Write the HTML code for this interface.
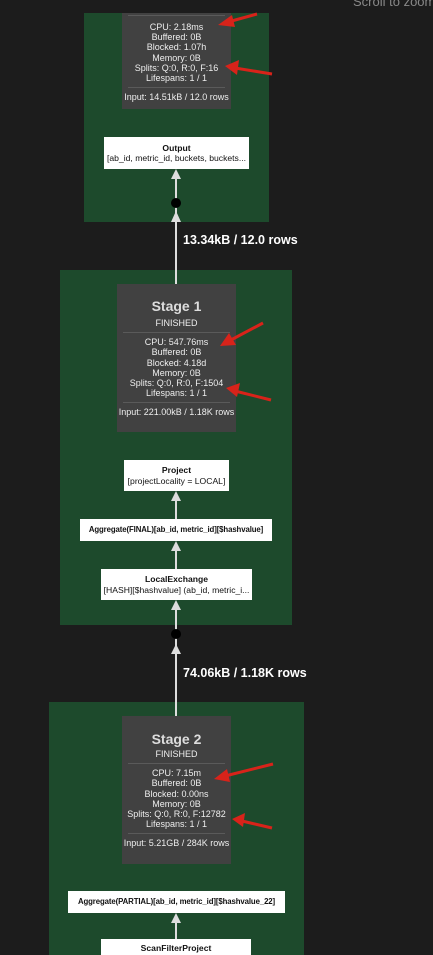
<!DOCTYPE html>
<html><head><style>
html,body{margin:0;width:433px;height:955px;overflow:hidden}
body{background:#1c1c1c;position:relative;font-family:"Liberation Sans",Arial,sans-serif}
.a{position:absolute}
.g{position:absolute;background:#1d4a2c}
.s{position:absolute;background:#414141;color:#eee;text-align:center;font-size:9px;line-height:10.2px}
.s hr{border:0;border-top:1px solid #5a5a5a;margin:4px 6px}
.t{font-size:14px;font-weight:bold;line-height:18px;color:#ddd}
.n{position:absolute;background:#fff;color:#111;text-align:center;font-size:8.6px;line-height:10.5px;display:flex;flex-direction:column;justify-content:center;white-space:nowrap;overflow:hidden}
.n b{font-weight:bold}
.n.o{font-size:7.8px;letter-spacing:-0.1px}
.l{position:absolute;color:#fff;font-weight:bold;font-size:12.5px}
</style></head><body>
<div class="a" style="left:353px;top:-6px;color:#888;font-size:13px;white-space:nowrap">Scroll to zoom</div>

<div class="g" style="left:84px;top:13px;width:185px;height:209px"></div>
<div class="s" style="left:122px;top:13px;width:109px;height:96px">
<hr style="margin-top:2px;margin-bottom:6px">
CPU: 2.18ms<br>Buffered: 0B<br>Blocked: 1.07h<br>Memory: 0B<br>Splits: Q:0, R:0, F:16<br>Lifespans: 1 / 1
<hr>Input: 14.51kB / 12.0 rows</div>
<div class="n" style="left:104px;top:137px;width:145px;height:32px"><b>Output</b>[ab_id, metric_id, buckets, buckets...</div>

<div class="g" style="left:60px;top:270px;width:232px;height:355px"></div>
<div class="s" style="left:117px;top:284px;width:119px;height:148px;padding-top:13px;box-sizing:border-box">
<div class="t">Stage 1</div><div style="margin-top:3px">FINISHED</div>
<hr>CPU: 547.76ms<br>Buffered: 0B<br>Blocked: 4.18d<br>Memory: 0B<br>Splits: Q:0, R:0, F:1504<br>Lifespans: 1 / 1
<hr>Input: 221.00kB / 1.18K rows</div>
<div class="n" style="left:124px;top:460px;width:105px;height:31px"><b>Project</b>[projectLocality = LOCAL]</div>
<div class="n o" style="left:80px;top:519px;width:192px;height:22px"><b>Aggregate(FINAL)[ab_id, metric_id][$hashvalue]</b></div>
<div class="n" style="left:101px;top:569px;width:151px;height:31px"><b>LocalExchange</b>[HASH][$hashvalue] (ab_id, metric_i...</div>

<div class="g" style="left:49px;top:702px;width:255px;height:253px"></div>
<div class="s" style="left:122px;top:716px;width:109px;height:148px;padding-top:14px;box-sizing:border-box">
<div class="t">Stage 2</div><div style="margin-top:1px">FINISHED</div>
<hr>CPU: 7.15m<br>Buffered: 0B<br>Blocked: 0.00ns<br>Memory: 0B<br>Splits: Q:0, R:0, F:12782<br>Lifespans: 1 / 1
<hr>Input: 5.21GB / 284K rows</div>
<div class="n o" style="left:68px;top:891px;width:217px;height:22px"><b>Aggregate(PARTIAL)[ab_id, metric_id][$hashvalue_22]</b></div>
<div class="n" style="left:101px;top:939px;width:150px;height:16px;justify-content:flex-start;padding-top:4px;box-sizing:border-box"><b>ScanFilterProject</b></div>

<div class="l" style="left:183px;top:233px">13.34kB / 12.0 rows</div>
<div class="l" style="left:183px;top:666px">74.06kB / 1.18K rows</div>

<svg class="a" style="left:0;top:0" width="433" height="955">
<g stroke="#ddd" stroke-width="2">
<line x1="176" y1="176" x2="176" y2="284"/>
<line x1="176" y1="497" x2="176" y2="519"/>
<line x1="176" y1="548" x2="176" y2="569"/>
<line x1="176" y1="607" x2="176" y2="716"/>
<line x1="176" y1="920" x2="176" y2="939"/>
</g>
<g fill="#ddd">
<polygon points="176,169 171,179 181,179"/>
<polygon points="176,211 171,222 181,222"/>
<polygon points="176,491 171,501 181,501"/>
<polygon points="176,541 171,551 181,551"/>
<polygon points="176,600 171,610 181,610"/>
<polygon points="176,644 171,654 181,654"/>
<polygon points="176,913 171,923 181,923"/>
</g>
<circle cx="176" cy="203" r="5" fill="#000"/>
<circle cx="176" cy="634" r="5" fill="#000"/>
<g stroke="#d8231a" stroke-width="3" fill="#d8231a">
<line x1="257" y1="14" x2="228" y2="22"/><polygon stroke="none" points="218,25 232,15 235,27"/>
<line x1="272" y1="74" x2="235" y2="68"/><polygon stroke="none" points="225,66 239,60 237,75"/>
<line x1="263" y1="323" x2="229" y2="341"/><polygon stroke="none" points="220,346 229,333 236,345"/>
<line x1="271" y1="400" x2="235" y2="391"/><polygon stroke="none" points="226,388 240,383 237,397"/>
<line x1="273" y1="764" x2="225" y2="776"/><polygon stroke="none" points="214,779 227,769 230,782"/>
<line x1="272" y1="828" x2="242" y2="821"/><polygon stroke="none" points="232,819 245,813 243,827"/>
</g>
</svg>
</body></html>
